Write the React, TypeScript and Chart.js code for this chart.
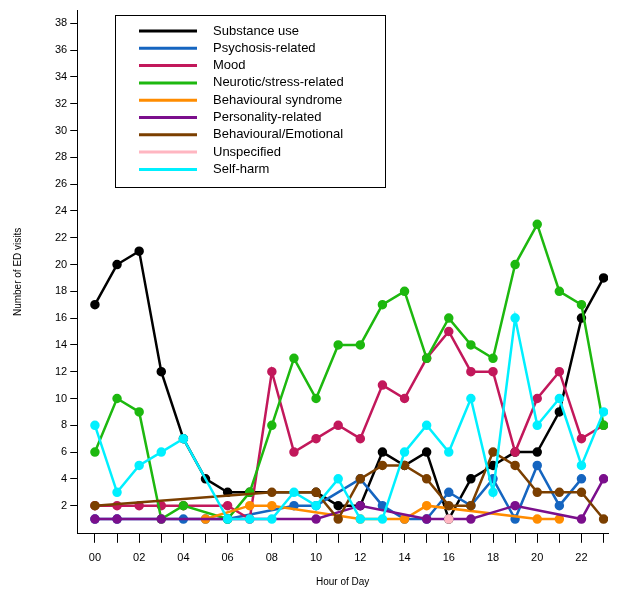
import React, { useEffect, useRef } from "react";
import { Chart, registerables } from "chart.js";
Chart.register(...registerables);

const hours = Array.from({ length: 24 }, (_, i) => i);
const N = null;
const substance = [17, 20, 21, 12, 7, 4, 3, 3, N, N, 3, 2, 2, 6, 5, 6, 1, 4, 5, 6, 6, 9, 16, 19];
const psychosis = [1, 1, N, N, 1, 1, 1, N, N, 2, 2, N, 4, 2, 1, 1, 3, 2, 4, 1, 5, 2, 4, N];
const mood = [2, 2, 2, 2, 2, N, 2, 1, 12, 6, 7, 8, 7, 11, 10, 13, 15, 12, 12, 6, 10, 12, 7, 8];
const neurotic = [6, 10, 9, 1, 2, N, 1, 3, 8, 13, 10, 14, 14, 17, 18, 13, 16, 14, 13, 20, 23, 18, 17, 8];
const behavSyndrome = [N, N, N, N, N, 1, N, 2, 2, N, N, N, 1, N, 1, 2, N, N, N, N, 1, 1, N, N];
const personality = [1, 1, N, 1, N, N, N, N, N, N, 1, N, 2, N, N, 1, N, 1, N, 2, N, N, 1, 4];
const behavEmotional = [2, N, N, N, N, N, N, N, 3, N, 3, 1, 4, 5, 5, 4, 2, 2, 6, 5, 3, 3, 3, 1];
const unspecified = [N, N, N, N, N, N, N, N, N, N, N, N, N, N, N, N, 1, N, N, N, N, N, N, N];
const selfHarm = [8, 3, 5, 6, 7, N, 1, 1, 1, 3, 2, 4, 1, 1, 6, 8, 6, 10, 3, 16, 8, 10, 5, 9];

const series = [
  { label: "Substance use", data: substance, color: "#000000" },
  { label: "Psychosis-related", data: psychosis, color: "#1565c0" },
  { label: "Mood", data: mood, color: "#c2185b" },
  { label: "Neurotic/stress-related", data: neurotic, color: "#1db80f" },
  { label: "Behavioural syndrome", data: behavSyndrome, color: "#ff8c00" },
  { label: "Personality-related", data: personality, color: "#7b0f8c" },
  { label: "Behavioural/Emotional", data: behavEmotional, color: "#7b3f00" },
  { label: "Unspecified", data: unspecified, color: "#ffb6c1" },
  { label: "Self-harm", data: selfHarm, color: "#00f0ff" },
];
const yTicks = [2, 4, 6, 8, 10, 12, 14, 16, 18, 20, 22, 24, 26, 28, 30, 32, 34, 36, 38];

const legendPlugin = {
  id: "boxLegend",
  afterDraw(chart: any) {
    const ctx = chart.ctx;
    const x0 = 115, y0 = 15, w = 270, h = 172;
    ctx.save();
    ctx.fillStyle = "#fff";
    ctx.fillRect(x0, y0, w, h);
    ctx.strokeStyle = "#000";
    ctx.lineWidth = 1;
    ctx.strokeRect(x0 + 0.5, y0 + 0.5, w, h);
    ctx.font = "13px 'Liberation Sans', Arial, sans-serif";
    ctx.textBaseline = "middle";
    series.forEach((s, i) => {
      const y = y0 + 16 + i * 17.3;
      ctx.strokeStyle = s.color;
      ctx.lineWidth = 3;
      ctx.beginPath();
      ctx.moveTo(x0 + 24, y);
      ctx.lineTo(x0 + 82, y);
      ctx.stroke();
      ctx.fillStyle = "#000";
      ctx.fillText(s.label, x0 + 98, y);
    });
    ctx.restore();
  },
};

export default function App() {
  const ref = useRef<HTMLCanvasElement>(null);
  useEffect(() => {
    const chart = new Chart(ref.current!, {
      type: "line",
      data: {
        datasets: series.map((s, i) => ({
          label: s.label,
          data: hours.map((h, j) => ({ x: h, y: s.data[j] as any })),
          borderColor: s.color,
          backgroundColor: s.color,
          borderWidth: 2.5,
          pointRadius: 3.5,
          pointHoverRadius: 3.5,
          spanGaps: true,
          tension: 0,
          order: series.length - i,
        })),
      },
      options: {
        animation: false,
        responsive: false,
        layout: { padding: { left: 12, right: 12, top: 10, bottom: 4 } },
        plugins: { legend: { display: false }, tooltip: { enabled: false } },
        scales: {
          x: {
            type: "linear",
            min: -0.8,
            max: 23.2,
            afterBuildTicks: (ax: any) => {
              ax.ticks = hours.map((v) => ({ value: v }));
            },
            grid: { display: true, drawOnChartArea: false, drawTicks: true, tickLength: 9, color: "#000" },
            border: { display: true, color: "#000", width: 1 },
            ticks: {
              autoSkip: false,
              maxRotation: 0,
              color: "#000",
              font: { family: "'Liberation Sans', Arial", size: 11 },
              callback: (v: any) => (v % 2 === 0 ? String(v).padStart(2, "0") : ""),
              padding: 9,
            },
            title: { display: true, text: "Hour of Day", color: "#000", font: { family: "'Liberation Sans', Arial", size: 10 }, padding: { top: 2, bottom: 0 } },
          },
          y: {
            min: -0.1,
            max: 39,
            afterBuildTicks: (ax: any) => {
              ax.ticks = yTicks.map((v) => ({ value: v }));
            },
            grid: { display: true, drawOnChartArea: false, drawTicks: true, tickLength: 7, color: "#000" },
            border: { display: true, color: "#000", width: 1 },
            ticks: { color: "#000", font: { family: "'Liberation Sans', Arial", size: 11 }, padding: 3 },
            title: { display: true, text: "Number of ED visits", color: "#000", font: { family: "'Liberation Sans', Arial", size: 10 }, padding: { top: 0, bottom: 28 } },
          },
        },
      },
      plugins: [legendPlugin],
    });
    return () => chart.destroy();
  }, []);
  return (
    <div style={{ position: "absolute", left: 0, top: 0, width: 620, height: 592, background: "#fff" }}>
      <canvas ref={ref} width={620} height={592} />
    </div>
  );
}
